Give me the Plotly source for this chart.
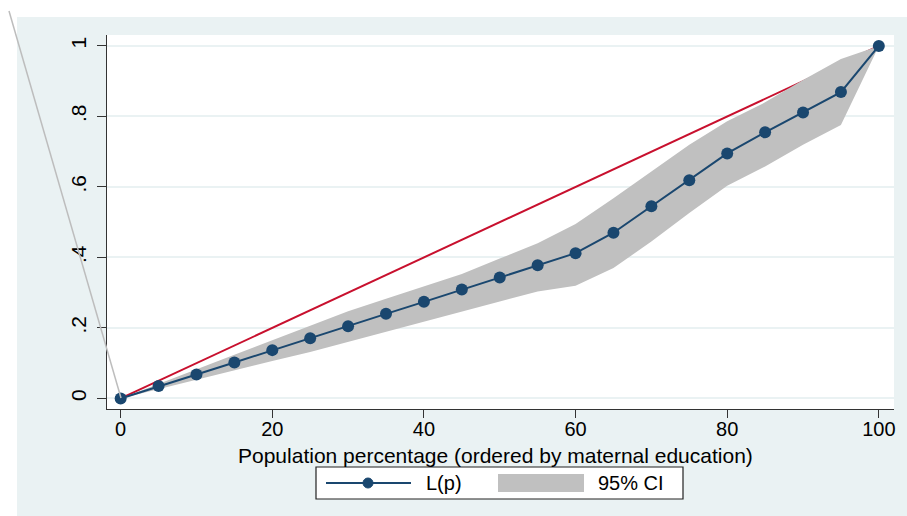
import plotly.graph_objects as go

# ---- data ----
pop_pct = [0, 5, 10, 15, 20, 25, 30, 35, 40, 45, 50, 55, 60, 65, 70, 75, 80, 85, 90, 95, 100]
lp = [0, 0.035, 0.068, 0.102, 0.137, 0.171, 0.205, 0.240, 0.274, 0.309, 0.343,
      0.378, 0.412, 0.470, 0.545, 0.619, 0.695, 0.755, 0.811, 0.869, 1.0]
ci_upper = [0, 0.042, 0.083, 0.124, 0.165, 0.205, 0.247, 0.283, 0.318, 0.353, 0.397,
            0.440, 0.495, 0.568, 0.644, 0.720, 0.786, 0.840, 0.903, 0.963, 1.0]
ci_lower = [0, 0.026, 0.053, 0.080, 0.106, 0.132, 0.160, 0.190, 0.218, 0.246, 0.275,
            0.303, 0.320, 0.370, 0.445, 0.526, 0.603, 0.658, 0.720, 0.776, 1.0]
equality_x = [0, 100]
equality_y = [0, 1]
y_tickvals = [0, 0.2, 0.4, 0.6, 0.8, 1.0]
y_ticktext = ["0", ".2", ".4", ".6", ".8", "1"]
x_tickvals = [0, 20, 40, 60, 80, 100]
x_title = "Population percentage (ordered by maternal education)"
legend_labels = ["L(p)", "95% CI"]

NAVY = "#1a476f"
RED = "#c8102e"
BAND = "#c0c0c0"
BG = "#eaf2f3"
FONT = "Liberation Sans, Arial, sans-serif"

W, H = 907, 516
ML, MR, MT, MB = 107, 13, 35, 107
PW, PH = W - ML - MR, H - MT - MB


def px(xp):
    return (xp - ML) / PW


def py(yp):
    return (H - MB - yp) / PH


fig = go.Figure()

fig.add_trace(go.Scatter(x=equality_x, y=equality_y, mode="lines",
                         line=dict(color=RED, width=2), showlegend=False, hoverinfo="skip"))
fig.add_trace(go.Scatter(x=pop_pct + pop_pct[::-1], y=ci_upper + ci_lower[::-1],
                         mode="lines", fill="toself", fillcolor=BAND,
                         line=dict(width=0, color=BAND), showlegend=False, hoverinfo="skip"))
fig.add_trace(go.Scatter(x=pop_pct, y=lp, mode="lines+markers",
                         line=dict(color=NAVY, width=2),
                         marker=dict(color=NAVY, size=12), showlegend=False))

shapes = [
    # white strips outside the graph region (top and left)
    dict(type="rect", xref="paper", yref="paper", x0=px(-5), x1=px(W + 5), y0=py(17), y1=py(-5),
         fillcolor="white", line=dict(width=0), layer="below"),
    dict(type="rect", xref="paper", yref="paper", x0=px(-5), x1=px(17), y0=py(H + 5), y1=py(17),
         fillcolor="white", line=dict(width=0), layer="below"),
    # stray grey line
    dict(type="line", xref="paper", yref="paper", x0=px(9), y0=py(11), x1=px(121), y1=py(398),
         line=dict(color="#bdbdbd", width=1.5), layer="above"),
    # legend box
    dict(type="rect", xref="paper", yref="paper", x0=px(316), x1=px(683), y0=py(499), y1=py(467),
         fillcolor="white", line=dict(color="#222", width=1.2)),
    dict(type="line", xref="paper", yref="paper", x0=px(326), x1=px(411), y0=py(483), y1=py(483),
         line=dict(color=NAVY, width=2)),
    dict(type="circle", xref="paper", yref="paper", x0=px(363), x1=px(373), y0=py(488), y1=py(478),
         fillcolor=NAVY, line=dict(color=NAVY, width=1)),
    dict(type="rect", xref="paper", yref="paper", x0=px(498), x1=px(584), y0=py(492), y1=py(474),
         fillcolor=BAND, line=dict(width=0)),
]

annotations = [
    dict(xref="paper", yref="paper", x=px(424), y=py(483), text=legend_labels[0], showarrow=False,
         xanchor="left", yanchor="middle", font=dict(family=FONT, size=20, color="black")),
    dict(xref="paper", yref="paper", x=px(596), y=py(483), text=legend_labels[1], showarrow=False,
         xanchor="left", yanchor="middle", font=dict(family=FONT, size=20, color="black")),
    dict(xref="paper", yref="paper", x=px(495), y=py(455), text=x_title, showarrow=False,
         xanchor="center", yanchor="middle", font=dict(family=FONT, size=21, color="black")),
]

fig.update_layout(
    width=W, height=H,
    margin=dict(l=ML, r=MR, t=MT, b=MB, autoexpand=False),
    paper_bgcolor=BG, plot_bgcolor="white",
    font=dict(family=FONT, size=20, color="black"),
    shapes=shapes, annotations=annotations,
    showlegend=False,
)
fig.update_xaxes(range=[-1.8, 102], tickvals=x_tickvals, showgrid=False, zeroline=False,
                 showline=True, linecolor="#333", linewidth=1.2, ticks="outside", ticklen=8,
                 tickcolor="#333", tickwidth=1.2, tickfont=dict(size=20), ticklabelstandoff=-6,
                 automargin=False)
fig.update_yaxes(range=[-0.030, 1.031], tickvals=y_tickvals, ticktext=y_ticktext, tickangle=-90,
                 showgrid=True, gridcolor=BG, gridwidth=1.5, zeroline=False,
                 showline=True, linecolor="#333", linewidth=1.2, ticks="outside", ticklen=9,
                 tickcolor="#333", tickwidth=1.2, tickfont=dict(size=21), ticklabelstandoff=3,
                 automargin=False)

fig.write_html("out.html", config={"displayModeBar": False},
               post_script="document.body.style.margin='0px';document.body.style.padding='0px';")
